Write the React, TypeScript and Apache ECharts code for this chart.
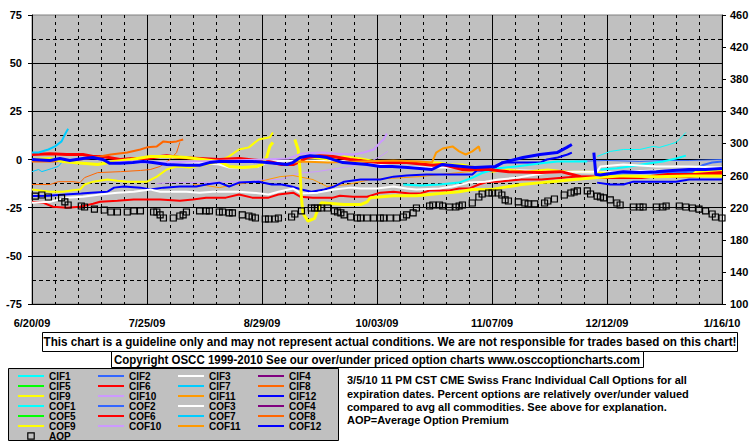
import React, { useEffect, useRef } from "react";
import * as echarts from "echarts";

// x values are days counted from 6/20/09
const xTickLabels = ["6/20/09", "7/25/09", "8/29/09", "10/03/09", "11/07/09", "12/12/09", "1/16/10"];
const leftTicks = { min: -75, max: 75, step: 25 };
const rightTicks = { min: 100, max: 460, step: 40 };

const CIF1 = [[172, 1.6], [176, 4.2], [180, 5.2], [185, 5.2], [189, 6.8], [191, 6.3], [194, 7.8], [196, 8.9], [197, 10.4], [199, 14]];
const CIF2 = [[165, -1], [175, -0.5], [185, -1], [193, -0.5], [200, -0.5], [210, 0]];
const CIF3 = [[26, -1.6], [35, -1.6], [42, -1.6], [50, -1.6], [57, -2.6], [60, -4.2], [64, -4.2], [69, -3.6], [72, -1], [80, -0.5], [88, -0.5], [95, -1], [100, -1.6], [110, -3.6], [120, -4.2], [130, -4.2], [140, -5.2], [150, -5.7], [160, -6.3], [170, -6.8], [180, -6.3], [190, -5.7], [200, -6.3], [210, -5.2]];
const CIF4: number[][] = [];
const CIF5: number[][] = [];
const CIF6 = [[0, -21.9], [3.3, -22.4], [6.4, -24.5], [10.6, -25], [14.6, -24.5], [18.6, -23], [20.7, -21.9], [26, -21.4], [31, -20.8], [39, -20.8], [45, -21.4], [49, -20.8], [53, -19.8], [59, -19.8], [63, -18.2], [67, -19.8], [72, -19.8], [75, -18.2], [79.5, -17.2], [81.6, -19.3], [85.5, -19.8], [91.6, -19.8], [93.7, -18.8], [97.7, -19.3], [102, -19.3], [106, -17.2], [110, -16.7], [115, -17.7], [118, -17.7], [121, -16.1], [127, -16.1], [130, -15.1], [133, -15.1], [136, -13], [139, -11.5], [142, -11.5], [149, -10.4], [155, -10.4], [165, -8.9], [173, -8.9], [180, -8.9], [190, -8.9], [200, -8.9], [210, -7.8]];
const CIF7 = [[0, -6.3], [2, -5.2], [3, -6.3], [6, -4.7], [8, -3.6], [9, -1.6], [10, -1]];
const CIF8 = [[0, -13], [5.5, -13], [8, -11.5], [12.5, -11.5], [14.6, -12], [16, -9.4], [20, -6.8], [27, -6.3], [33, -5.7], [36, -5.2], [39, -3.6], [42, 0], [44, 3.6], [45, 8.9]];
const CIF9 = [[0, -15.6], [5.5, -16.7], [9.4, -16.7], [12.5, -16], [14.6, -15.6], [16, -13], [18.6, -11.5], [23, -10.4], [26, -11], [29, -11.5], [35, -11.5], [38, -8.9], [41, -5.2], [44, -3.6], [48, -4.2], [53, -2.6], [56, -1.6], [60, 1.6], [63, 5.2], [66, 6.3], [69, 10.4], [72.4, 11.5], [73.3, 14], [74, null], [85, 1], [90, 0], [95, 1.6], [100, 0.5], [105, -1], [112, -1], [121, -1.6], [124, -1.6], [127, -2.6], [131, -2.6], [135, -4.2], [140, -6.3], [145, -5.2], [150, -6.3], [157, -5.2], [163, -6.3], [170, -6.3], [175, -7], [180, -7], [190, -6.3], [200, -6.8], [210, -5.7]];
const CIF10 = [[38, -12.5], [42, -12], [50, -12], [60, -11.5], [66, -11.5], [71.5, -10.4], [76, -10.4], [78, -9], [81.6, -7], [86.7, -6.3], [94.6, -4.2], [99, -2.6], [103, -1], [106, 1.6], [108.3, 4.2]];
const CIF11 = [[49, -13], [53, -13.5], [57, -14.6], [62, -13], [66, -12], [69, -11.5], [75.5, -8.9], [79.4, -8.3], [85.5, -10.4], [89.8, -14], [96, -13], [103, -10.4], [108, -9.9], [113, -9.4], [118, -8.9], [124, -7.8], [130, -6.8], [136, -5.7], [140, -4.7]];
const CIF12 = [[0, -19], [5, -18.8], [10, -18.2], [15, -17.7], [18, -17.2], [23, -16.7], [25, -14.6], [28, -14], [33, -14.6], [36, -15.6], [40, -14.6], [45, -14], [50, -14], [53, -13], [57, -12], [60, -14], [63, -12], [69, -11.5], [73, -13], [76, -13], [79, -14], [82, -15.6], [85, -16.7], [89, -15.6], [92, -14], [95, -11.5], [100, -10.4], [106, -10.4], [110, -8.9], [114, -8.3], [120, -7.8], [127, -7.8], [134, -7.8], [135.4, -5.7], [140, -5.7], [143, -1.6], [149, -1.6], [154.6, -1.6], [156.7, 0], [160, 1], [163, 2.6], [164.3, 3.6], [166, null], [172, -12], [176, -13], [180, -13], [183, -11.5], [190, -11.5], [196, -11.5], [200, -10.4], [205, -10.4], [210, -10.4]];

const COF1 = [[113, -13], [118, -13.5], [124, -13], [130, -12], [134, -9.5], [137, -7], [142, -4.5], [148, -3.5], [155, -2], [160, -1], [165, -1], [169, -1], [170, null], [173, -5.2], [178, -4.5], [182, -3.6], [188, -2], [192, -1], [196, 0.5], [199, 2]];
const COF2 = [[175, -7.5], [185, -7], [195, -6.8], [201, -6.3], [204, -3], [207, -1.6], [210, -1]];
const COF3 = [[0, -22.4], [5.5, -21.9], [10.6, -19.8], [15.5, -19.3], [20.7, -18.2], [26, -17.2], [31, -16.7], [36, -15.6], [39, -16.7], [43, -16.7], [47, -16.7], [51, -17.2], [55, -16.7], [59, -16.7], [63, -16.7], [67, -17.2], [72, -18.2], [75, -16.7], [79.5, -15.1], [82, -17.7], [87, -17.2], [92, -15.6], [97, -14.6], [100, -15.1], [105, -15.1], [110, -14], [114, -15.1], [117, -15.6], [124, -15.1], [128, -14], [133, -12], [138, -11.5], [142, -10.4], [148, -9.4], [157, -6.8], [165, -6.3], [172, -6.3], [173, -3.6], [180, -2.6], [190, -3.6], [200, -3.6], [210, -4.2]];
const COF4: number[][] = [];
const COF5: number[][] = [];
const COF6 = [[0, 2.6], [5.5, 3], [10.6, 2.6], [15.5, 2.6], [18.6, 1.6], [21.6, 1.6], [26.8, 0], [30.7, 0.5], [35, 0.5], [39, 1.6], [41, 2], [45, 1], [51, 0.5], [57, 0], [63, 0.5], [69, -0.5], [72, -1], [76, -2.6], [79.5, -2.6], [81.6, -1], [83.7, 1], [87.6, 2], [91.6, 1.6], [96.8, 0], [102, -1], [106, -1.6], [114, -1.6], [122, -3], [125, -2.6], [131, -5.2], [139, -5.2], [145, -6.3], [155, -6.8], [161, -6.3], [167, -8.9], [175, -9.4], [185.6, -9.4], [193.5, -7.8], [202, -7.8], [210, -6.8]];
const COF7 = [[0, 3.6], [2, 3.6], [5, 5.2], [7, 6.8], [9, 9.4], [10, 13], [11, 16]];
const COF8 = [[0, -1], [6, -1], [12, -0.5], [17, 0.5], [20.7, 1.6], [24, 2.6], [29, 3.6], [33, 5.2], [35, 6.3], [38, 6.8], [40, 9.4], [42, 8.9], [44, 9.4], [46, 10.4]];
const COF9 = [[0, 0], [5.5, 0.5], [9.4, -1], [12.5, -1.6], [20, -2.6], [25, -1], [30, 0], [36, 1.6], [42, 1.6], [47, 1], [52, 0], [57, -1], [60, -3.6], [64, -4.2], [68.5, -3.6], [70, -2.6], [71.5, 1.6], [72.4, 6.8], [73.3, 8.9], [75, null], [80, 10.4], [81, 5.2], [81.5, -4], [82, -20], [82.5, -28], [84, -32], [86, -30.5], [87, -26], [88, -22.5], [92, -23], [95, -23.4], [100, -23.4], [102, -22], [103, -19.8], [110, -18.8], [117, -18.8], [124, -17.7], [130, -16.7], [134, -15.6], [140, -15.6], [143, -14.6], [149, -13], [155, -12], [158, -11.5], [165, -10.4], [172, -9.4], [180, -8.5], [190, -9], [200, -8.5], [210, -8.5]];
const COF10 = [[25, -1.6], [30, -1], [40, -1.6], [50, -1], [60, -0.5], [70, 0], [78, 0.5], [82, 3], [88, 3.6], [93, 3], [98, 2.6], [101, 3.6], [104, 5.2], [106, 8.9], [107, 10.4], [108, 13.5]];
const COF11 = [[78, -2], [82, -1], [90, -1.6], [100, -1], [110, -0.5], [118, -1], [121.7, -1.6], [123, 3.6], [125, 5.7], [128, 6.8], [130, 4.2], [132, 2.6], [134, 4.2], [136, 6.8], [136.4, 4.2]];
const COF12 = [[0, 0], [5.5, -0.5], [8.5, 0.5], [11.5, -0.5], [15.5, 0.5], [18.5, 1], [21.6, 0], [23.7, -2], [26.8, -2], [30.7, -1.6], [33.8, -1], [36.8, -1.6], [41, -2.6], [47, -3], [51, -3], [54, -1.6], [57, -1], [61, -1], [67, -1], [71.5, -1.6], [77.6, -2.6], [79.4, -1.6], [81.6, 1], [84.6, 2], [87.6, 1.6], [89.8, 1], [94.6, -1.6], [102, -2.6], [106, -3.6], [109.6, -3.6], [114.4, -4.2], [121.7, -5.2], [124.8, -2.6], [131, -3.6], [134.8, -4.2], [141, -3.6], [143.3, -1.6], [149.4, 1], [154.6, 2.6], [159.8, 3.6], [162.8, 6.3], [164.3, 7.8], [166, null], [171, 3.6], [171.6, -7.8], [173, -8], [176, -7.3], [180, -6.3], [185, -6.8], [190, -6.3], [195, -5.7], [200, -5.2], [205, -5.2], [210, -4.7]];

const AOP = [[1, 234.5], [3, 235.8], [5, 233.3], [9, 232.1], [10, 227.1], [11, 223.3], [15, 222.1], [16, 220.8], [19, 218.3], [22, 217.1], [24, 214.6], [26, 214.6], [29, 214.6], [31, 215.9], [33, 215.9], [37, 214.6], [38, 214.6], [39, 210.9], [40, 207.1], [43, 207.1], [45, 209.6], [46, 210.9], [47, 214.6], [51, 215.9], [53, 215.9], [54, 215.9], [57, 214.6], [58, 214.6], [60, 213.4], [61, 213.4], [64, 210.9], [66, 209.6], [67, 208.4], [68, 207.1], [71, 205.9], [72, 205.9], [74, 205.9], [75, 207.1], [79, 208.4], [80, 212.1], [82, 215.9], [85, 219.6], [86, 219.6], [87, 219.6], [88, 219.6], [90, 219.6], [92, 215.9], [93, 214.6], [94, 213.4], [95, 210.9], [97, 208.4], [99, 207.1], [100, 207.1], [102, 207.1], [104, 207.1], [106, 207.1], [107, 207.1], [109, 207.1], [111, 207.1], [113, 208.4], [114, 210.9], [116, 213.4], [117, 219.6], [121, 222.1], [122, 223.3], [124, 223.3], [125, 222.1], [127, 220.8], [129, 220.8], [130, 222.1], [131, 223.3], [134, 225.8], [136, 233.3], [137, 237], [139, 238.3], [140, 238.3], [142, 238.3], [143, 235.8], [144, 229.6], [145, 228.3], [148, 227.1], [150, 225.8], [151, 224.6], [153, 224.6], [156, 225.8], [157, 228.3], [159, 230.8], [162, 235.8], [164, 238.3], [165, 239.5], [166, 240.8], [169, 240.8], [170, 237], [172, 234.5], [173, 233.3], [174, 232.1], [176, 229.6], [178, 225.8], [179, 223.3], [183, 220.8], [185, 220.8], [186, 220.8], [190, 220.8], [192, 220.8], [193, 222.1], [197, 222.1], [199, 220.8], [201, 219.6], [203, 218.3], [205, 215.9], [207, 212.1], [208, 208.4], [210, 207.1]];

const seriesDefs = [
  { name: "CIF1", data: CIF1, color: "#00FFFF", width: 1 },
  { name: "CIF2", data: CIF2, color: "#3366FF", width: 1 },
  { name: "CIF3", data: CIF3, color: "#FFFFFF", width: 2 },
  { name: "CIF4", data: CIF4, color: "#800080", width: 1 },
  { name: "CIF5", data: CIF5, color: "#00FF00", width: 1 },
  { name: "CIF6", data: CIF6, color: "#FF0000", width: 2 },
  { name: "CIF7", data: CIF7, color: "#00CCFF", width: 1 },
  { name: "CIF8", data: CIF8, color: "#FF6600", width: 1 },
  { name: "CIF9", data: CIF9, color: "#FFFF00", width: 2 },
  { name: "CIF10", data: CIF10, color: "#CC99FF", width: 1 },
  { name: "CIF11", data: CIF11, color: "#FF9900", width: 1 },
  { name: "CIF12", data: CIF12, color: "#0000FF", width: 2 },
  { name: "COF1", data: COF1, color: "#00FFFF", width: 2 },
  { name: "COF2", data: COF2, color: "#3366FF", width: 2 },
  { name: "COF3", data: COF3, color: "#FFFFFF", width: 2 },
  { name: "COF4", data: COF4, color: "#800080", width: 2 },
  { name: "COF5", data: COF5, color: "#00FF00", width: 2 },
  { name: "COF6", data: COF6, color: "#FF0000", width: 3 },
  { name: "COF7", data: COF7, color: "#00CCFF", width: 2 },
  { name: "COF8", data: COF8, color: "#FF6600", width: 2 },
  { name: "COF9", data: COF9, color: "#FFFF00", width: 3 },
  { name: "COF10", data: COF10, color: "#CC99FF", width: 2 },
  { name: "COF11", data: COF11, color: "#FF9900", width: 2 },
  { name: "COF12", data: COF12, color: "#0000FF", width: 3 },
];

const legendColumns = [
  ["CIF1", "CIF5", "CIF9", "COF1", "COF5", "COF9", "AOP"],
  ["CIF2", "CIF6", "CIF10", "COF2", "COF6", "COF10"],
  ["CIF3", "CIF7", "CIF11", "COF3", "COF7", "COF11"],
  ["CIF4", "CIF8", "CIF12", "COF4", "COF8", "COF12"],
];

const SANS = "'Liberation Sans', Arial, sans-serif";

const disclaimer = "This chart is a guideline only and may not represent actual conditions. We are not responsible for trades based on this chart!";
const copyright = "Copyright OSCC 1999-2010 See our over/under priced option charts www.osccoptioncharts.com";
const description = [
  "3/5/10 11 PM CST CME Swiss Franc Individual Call Options for all",
  "expiration dates. Percent options are relatively over/under valued",
  "compared to avg all commodities. See above for explanation.",
  "AOP=Average Option Premium",
];

export default function App() {
  const ref = useRef<HTMLDivElement>(null);
  useEffect(() => {
    if (!ref.current) return;
    const chart = echarts.init(ref.current, null, { renderer: "svg" });
    const axisLabelStyle = { fontFamily: SANS, fontWeight: "bold" as const, fontSize: 11, color: "#000" };
    const series: any[] = seriesDefs.map((d) => ({
      type: "line",
      name: d.name,
      data: d.data,
      symbol: "none",
      connectNulls: false,
      lineStyle: { color: d.color, width: d.width },
      itemStyle: { color: d.color },
      emphasis: { disabled: true },
    }));
    series.push({
      type: "line",
      name: "AOP",
      yAxisIndex: 1,
      data: AOP,
      symbol: "rect",
      symbolSize: 6,
      showSymbol: true,
      lineStyle: { width: 0, opacity: 0 },
      itemStyle: { color: "rgba(0,0,0,0)", borderColor: "#000", borderWidth: 1.2 },
      emphasis: { disabled: true },
      z: 3,
    });
    const option: any = {
      animation: false,
      grid: { left: 32, right: 33, top: 15, bottom: 142, show: true, backgroundColor: "#C0C0C0", borderColor: "#808080", borderWidth: 1 },
      xAxis: {
        type: "value",
        min: 0,
        max: 210,
        interval: 35,
        axisLine: { show: true, lineStyle: { color: "#000", width: 1 } },
        axisTick: { show: false },
        axisLabel: { ...axisLabelStyle, margin: 13, formatter: (v: number) => xTickLabels[Math.round(v / 35)] ?? "" },
        splitLine: { show: true, lineStyle: { color: "#000", width: 1 } },
        minorTick: { show: false, splitNumber: 5 },
        minorSplitLine: { show: true, lineStyle: { color: "#000", width: 1, type: [3, 4] } },
      },
      yAxis: [
        {
          type: "value",
          position: "left",
          min: leftTicks.min,
          max: leftTicks.max,
          interval: leftTicks.step,
          axisLine: { show: true, lineStyle: { color: "#000", width: 1 } },
          axisTick: { show: true, length: 4, lineStyle: { color: "#000" } },
          axisLabel: { ...axisLabelStyle, margin: 10 },
          splitLine: { show: true, showMaxLine: false, lineStyle: { color: "#000", width: 1 } },
          minorTick: { show: false, splitNumber: 2 },
          minorSplitLine: { show: true, lineStyle: { color: "#000", width: 1, type: [4, 3] } },
        },
        {
          type: "value",
          position: "right",
          min: rightTicks.min,
          max: rightTicks.max,
          interval: rightTicks.step,
          axisLine: { show: true, lineStyle: { color: "#000", width: 1 } },
          axisTick: { show: true, length: 4, lineStyle: { color: "#000" } },
          axisLabel: { ...axisLabelStyle, margin: 8 },
          splitLine: { show: false },
        },
      ],
      legend: legendColumns.map((col, i) => ({
        orient: "vertical",
        left: 17 + 80 * i,
        top: 371,
        height: 75,
        padding: 0,
        itemWidth: 26,
        itemHeight: 8,
        itemGap: 0,
        selectedMode: false,
        itemStyle: { opacity: 0 },
        data: col.map((name) =>
          name === "AOP"
            ? { name, itemStyle: { opacity: 1, color: "rgba(0,0,0,0)", borderColor: "#000", borderWidth: 1.2 } }
            : { name }
        ),
        textStyle: { fontFamily: SANS, fontWeight: "bold", fontSize: 10, color: "#000", lineHeight: 10 },
      })),
      graphic: [
        { type: "rect", z: -1, shape: { x: 8.5, y: 368.5, width: 330, height: 72 }, style: { fill: "#C0C0C0", stroke: "#000", lineWidth: 1 } },
        { type: "rect", shape: { x: 42.5, y: 332.5, width: 695, height: 19 }, style: { fill: "#FFFFFF", stroke: "#000", lineWidth: 1 } },
        { type: "text", x: 390, y: 342, scaleX: 0.972, style: { text: disclaimer, align: "center", verticalAlign: "middle", font: `bold 12px ${SANS}`, fill: "#000" } },
        { type: "rect", shape: { x: 111.5, y: 351.5, width: 532, height: 16 }, style: { fill: "#FFFFFF", stroke: "#000", lineWidth: 1 } },
        { type: "text", x: 377, y: 359.5, scaleX: 0.958, style: { text: copyright, align: "center", verticalAlign: "middle", font: `bold 12px ${SANS}`, fill: "#000" } },
        { type: "text", x: 347, y: 373.5, style: { text: description.join("\n"), align: "left", verticalAlign: "top", font: `bold 11px ${SANS}`, lineHeight: 13.4, fill: "#000" } },
      ],
      series,
    };
    chart.setOption(option);
    return () => chart.dispose();
  }, []);
  return <div ref={ref} style={{ position: "absolute", left: 0, top: 0, width: 755, height: 446, background: "#FFFFFF" }} />;
}
